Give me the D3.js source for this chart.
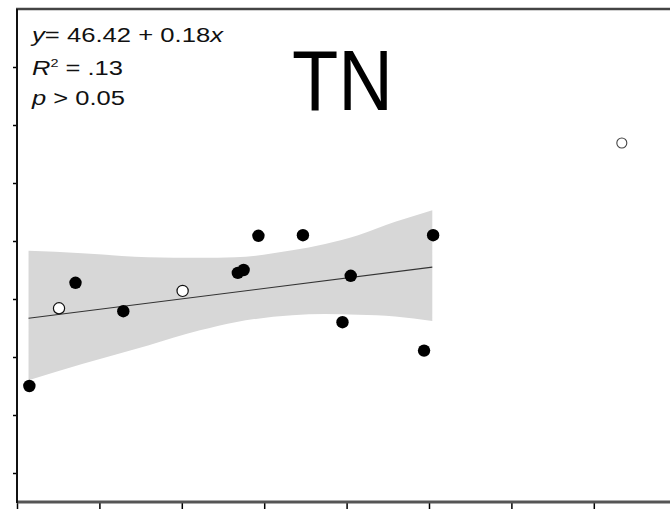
<!DOCTYPE html>
<html>
<head>
<meta charset="utf-8">
<script src="https://cdn.jsdelivr.net/npm/d3@7"></script>
<style>
  html, body { margin: 0; padding: 0; background: #fff; }
  svg { display: block; }
  text { font-family: "Liberation Sans", Arial, sans-serif; }
</style>
</head>
<body>
<svg id="chart" width="670" height="510"></svg>
<script>
// ---- data ----
const xTicks = [0, 10, 20, 30, 40, 50, 60, 70];
const yTicks = [20, 30, 40, 50, 60, 70, 80, 90];

const filledX = [1.5, 7.1, 12.9, 26.8, 27.5, 29.3, 34.7, 39.5, 40.5, 49.4, 50.5];
const filledY = [35.0, 52.8, 47.9, 54.5, 55.0, 60.9, 61.0, 46.0, 54.0, 41.1, 61.0];

const openX = [5.1, 20.1];
const openY = [48.4, 51.4];

const outlierX = [73.4];
const outlierY = [76.9];

const bandX     = [1.4, 7.9, 15.9, 22.2, 26.5, 33.4, 37.4, 41.4, 45.9, 50.4];
const bandUpper = [58.3, 57.9, 57.2, 57.1, 57.2, 58.4, 59.5, 61.0, 63.3, 65.3];
const bandLower = [36.0, 38.8, 42.0, 44.6, 46.0, 47.2, 47.4, 47.3, 47.0, 46.2];

const intercept = 46.42;
const slope = 0.18;
const fitRange = [1.4, 50.4];

// ---- drawing ----
const svg = d3.select("#chart");
const x = d3.scaleLinear().domain([0, 80]).range([17, 676.2]);
const y = d3.scaleLinear().domain([15, 100]).range([502, 9]);

// confidence band
const band = bandX.map((d, i) => ({ x: d, lo: bandLower[i], hi: bandUpper[i] }));
svg.append("path")
  .datum(band)
  .attr("fill", "#d7d7d7")
  .attr("d", d3.area()
    .x(d => x(d.x))
    .y0(d => y(d.lo))
    .y1(d => y(d.hi))
    .curve(d3.curveMonotoneX));

// regression line
svg.append("line")
  .attr("x1", x(fitRange[0])).attr("y1", y(intercept + slope * fitRange[0]))
  .attr("x2", x(fitRange[1])).attr("y2", y(intercept + slope * fitRange[1]))
  .attr("stroke", "#333").attr("stroke-width", 1.1);

// filled points
svg.append("g").selectAll("circle")
  .data(filledX.map((d, i) => [d, filledY[i]]))
  .join("circle")
  .attr("cx", d => x(d[0])).attr("cy", d => y(d[1]))
  .attr("r", 6.2).attr("fill", "#000");

// open points
svg.append("g").selectAll("circle")
  .data(openX.map((d, i) => [d, openY[i]]))
  .join("circle")
  .attr("cx", d => x(d[0])).attr("cy", d => y(d[1]))
  .attr("r", 5.6).attr("fill", "#fff").attr("stroke", "#111").attr("stroke-width", 1.2);

svg.append("g").selectAll("circle")
  .data(outlierX.map((d, i) => [d, outlierY[i]]))
  .join("circle")
  .attr("cx", d => x(d[0])).attr("cy", d => y(d[1]))
  .attr("r", 5).attr("fill", "#fff").attr("stroke", "#444").attr("stroke-width", 1.1);

// axes
const yAxis = svg.append("g")
  .attr("transform", `translate(${x(0)},0)`)
  .call(d3.axisLeft(y).tickValues(yTicks).tickSize(4).tickSizeOuter(0).tickFormat(""));
yAxis.select(".domain").remove();
yAxis.selectAll(".tick line").attr("stroke", "#000").attr("stroke-width", 1.5);

const xAxis = svg.append("g")
  .attr("transform", `translate(0,${y(15)})`)
  .call(d3.axisBottom(x).tickValues(xTicks).tickSize(7).tickSizeOuter(0).tickFormat(""));
xAxis.select(".domain").remove();
xAxis.selectAll(".tick line").attr("stroke", "#000").attr("stroke-width", 1.5);

// frame lines
svg.append("line")
  .attr("x1", x(0)).attr("x2", 670).attr("y1", y(15)).attr("y2", y(15))
  .attr("stroke", "#555").attr("stroke-width", 3);
svg.append("line")
  .attr("x1", x(0) - 1).attr("x2", 670).attr("y1", y(100)).attr("y2", y(100))
  .attr("stroke", "#444").attr("stroke-width", 2.5);
svg.append("line")
  .attr("x1", x(0)).attr("x2", x(0)).attr("y1", y(100)).attr("y2", y(15) + 1)
  .attr("stroke", "#111").attr("stroke-width", 2);

// annotation text
const t1 = svg.append("text").attr("x", 32).attr("y", 42).attr("font-size", 19.5)
  .attr("textLength", 191).attr("lengthAdjust", "spacingAndGlyphs").attr("fill", "#111");
t1.append("tspan").attr("font-style", "italic").text("y");
t1.append("tspan").text("= 46.42 + 0.18");
t1.append("tspan").attr("font-style", "italic").text("x");

const t2 = svg.append("text").attr("x", 32).attr("y", 75).attr("font-size", 19.5)
  .attr("textLength", 91).attr("lengthAdjust", "spacingAndGlyphs").attr("fill", "#111");
t2.append("tspan").attr("font-style", "italic").text("R");
t2.append("tspan").attr("font-size", 11).attr("dy", -8).text("2");
t2.append("tspan").attr("dy", 8).text(" = .13");

const t3 = svg.append("text").attr("x", 32).attr("y", 105).attr("font-size", 19.5)
  .attr("textLength", 93).attr("lengthAdjust", "spacingAndGlyphs").attr("fill", "#111");
t3.append("tspan").attr("font-style", "italic").text("p");
t3.append("tspan").text(" > 0.05");

// title
svg.append("text").attr("x", 292).attr("y", 110).attr("font-size", 86)
  .attr("textLength", 101).attr("lengthAdjust", "spacingAndGlyphs")
  .attr("fill", "#000").text("TN");
</script>
</body>
</html>
